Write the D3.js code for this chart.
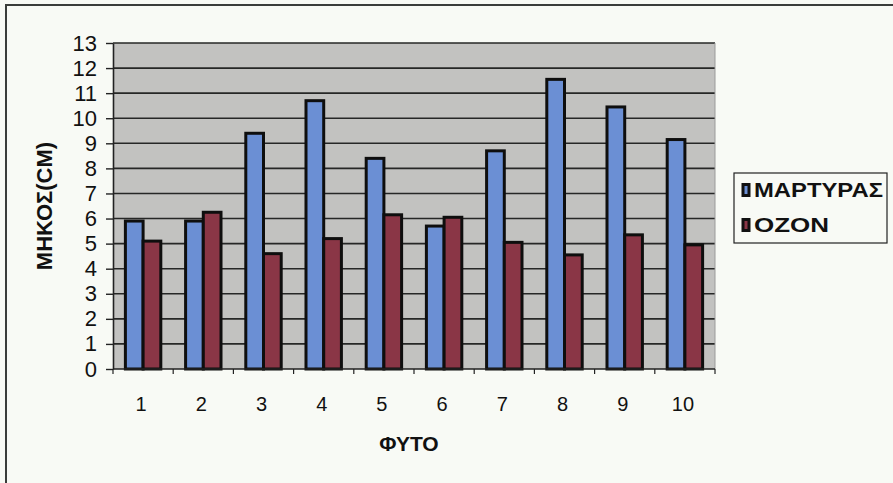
<!DOCTYPE html>
<html>
<head>
<meta charset="utf-8">
<script src="https://cdn.jsdelivr.net/npm/d3@7"></script>
<style>
  html, body { margin: 0; padding: 0; background: #f8faf5; }
  svg { display: block; }
  text { font-family: "Liberation Sans", Arial, sans-serif; }
</style>
</head>
<body>
<svg id="chart" width="893" height="483"></svg>
<script>
// Plant numbers and measured length (cm) for each group
const plants = ["1", "2", "3", "4", "5", "6", "7", "8", "9", "10"];
const seriesNames = ["ΜΑΡΤΥΡΑΣ", "ΟΖΟΝ"];
const control = [5.9, 5.9, 9.4, 10.7, 8.4, 5.7, 8.7, 11.55, 10.45, 9.15];
const ozone = [5.1, 6.25, 4.6, 5.2, 6.15, 6.05, 5.05, 4.55, 5.35, 4.95];
const yTicks = [0, 1, 2, 3, 4, 5, 6, 7, 8, 9, 10, 11, 12, 13];
const colors = ["#6b8fd4", "#8a3646"];

const svg = d3.select("#chart");
const plot = { left: 113, top: 43, right: 715, bottom: 369 };

// outer frame (left and top edges)
svg.append("path")
  .attr("d", "M6,483 V5 H893")
  .attr("fill", "none").attr("stroke", "#3a3d3a").attr("stroke-width", 2);

const x = d3.scaleBand().domain(plants).range([plot.left, plot.right]).paddingInner(0).paddingOuter(0);
const xs = d3.scaleBand().domain(seriesNames).range([0, x.bandwidth()]).paddingInner(0).paddingOuter(0.7);
const y = d3.scaleLinear().domain([0, 13]).range([plot.bottom, plot.top]);

// plot area background
svg.append("rect")
  .attr("x", plot.left).attr("y", plot.top)
  .attr("width", plot.right - plot.left).attr("height", plot.bottom - plot.top)
  .attr("fill", "#c2c2c0");

// horizontal gridlines
svg.append("g").selectAll("line").data(yTicks.filter(d => d > 0)).join("line")
  .attr("x1", plot.left).attr("x2", plot.right)
  .attr("y1", d => y(d)).attr("y2", d => y(d))
  .attr("stroke", "#262726").attr("stroke-width", 1.6);

// right edge of plot area
svg.append("line")
  .attr("x1", plot.right).attr("x2", plot.right)
  .attr("y1", plot.top).attr("y2", plot.bottom)
  .attr("stroke", "#9a9a9a").attr("stroke-width", 1);

// bars
const rows = plants.map((p, i) => ({ plant: p, values: [control[i], ozone[i]] }));
const groups = svg.append("g").selectAll("g").data(rows).join("g")
  .attr("transform", d => `translate(${x(d.plant)},0)`);
groups.selectAll("rect").data(d => d.values.map((v, k) => ({ v, k })))
  .join("rect")
  .attr("x", d => xs(seriesNames[d.k]))
  .attr("y", d => y(d.v))
  .attr("width", xs.bandwidth())
  .attr("height", d => y(0) - y(d.v))
  .attr("fill", d => colors[d.k])
  .attr("stroke", "#0e0e0e")
  .attr("stroke-width", 3);

// y axis
const yAxis = d3.axisLeft(y).tickValues(yTicks).tickSize(7).tickPadding(9).tickSizeOuter(0);
const gy = svg.append("g").attr("transform", `translate(${plot.left},0)`).call(yAxis);
gy.select(".domain").attr("stroke", "#222").attr("stroke-width", 1.6);
gy.selectAll(".tick line").attr("stroke", "#222").attr("stroke-width", 1.4);
gy.selectAll(".tick text")
  .attr("fill", "#111").style("font-size", "22px")
  .style("font-family", "'Liberation Sans', Arial, sans-serif");

// x axis: ticks sit between categories
const gx = svg.append("g").attr("transform", `translate(0,${plot.bottom})`);
gx.append("line").attr("x1", plot.left).attr("x2", plot.right)
  .attr("stroke", "#222").attr("stroke-width", 1.6);
gx.selectAll("line.tk").data(d3.range(plants.length + 1)).join("line")
  .attr("class", "tk")
  .attr("x1", i => plot.left + i * x.bandwidth()).attr("x2", i => plot.left + i * x.bandwidth())
  .attr("y1", 0).attr("y2", 5)
  .attr("stroke", "#222").attr("stroke-width", 1.2);
gx.selectAll("text").data(plants).join("text")
  .attr("x", d => x(d) + x.bandwidth() / 2 - 2)
  .attr("y", 42)
  .attr("text-anchor", "middle")
  .attr("fill", "#111")
  .style("font-size", "20px")
  .text(d => d);

// axis titles
svg.append("text")
  .attr("x", 409).attr("y", 451)
  .attr("text-anchor", "middle")
  .attr("fill", "#111").style("font-size", "21px").style("font-weight", "bold")
  .text("ΦΥΤΟ");
svg.append("text")
  .attr("transform", "translate(52,206) rotate(-90)")
  .attr("text-anchor", "middle")
  .attr("fill", "#111").style("font-size", "22px").style("font-weight", "bold")
  .text("ΜΗΚΟΣ(CM)");

// legend
const lg = svg.append("g").attr("transform", "translate(734,173)");
lg.append("rect").attr("width", 153).attr("height", 70)
  .attr("fill", "#f8faf5").attr("stroke", "#222").attr("stroke-width", 1.2);
const items = lg.selectAll("g").data(seriesNames).join("g")
  .attr("transform", (d, i) => `translate(9,${10 + i * 35})`);
items.append("rect").attr("width", 6).attr("height", 11).attr("y", 1.5)
  .attr("fill", (d, i) => colors[i]).attr("stroke", "#111").attr("stroke-width", 3);
items.append("text").attr("x", 11).attr("y", 14)
  .attr("fill", "#111").style("font-size", "20px").style("font-weight", "bold")
  .attr("textLength", (d, i) => i === 0 ? 129 : 75)
  .attr("lengthAdjust", "spacingAndGlyphs")
  .text(d => d);
</script>
</body>
</html>
